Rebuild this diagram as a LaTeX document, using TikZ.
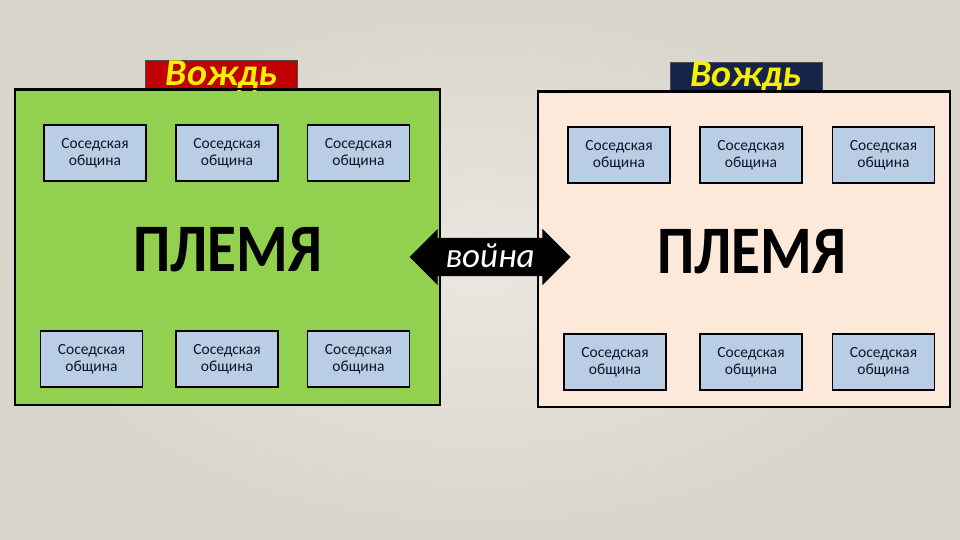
\documentclass[tikz,border=0pt]{standalone}
\usepackage{fontspec}
\setmainfont{Carlito}
\usetikzlibrary{shapes.arrows}

\definecolor{bgbeige}{HTML}{D8D5CB}
\definecolor{bglight}{HTML}{EAE7E1}
\definecolor{tribegreen}{HTML}{92D050}
\definecolor{tribepeach}{HTML}{FDE9D9}
\definecolor{commblue}{HTML}{B9CDE5}
\definecolor{chiefred}{HTML}{C00000}
\definecolor{chiefnavy}{HTML}{17244A}
\definecolor{chiefyellow}{HTML}{F7F000}
\definecolor{inkdark}{HTML}{0D1626}

\begin{document}
\begin{tikzpicture}[x=1pt, y=-1pt,
  tribe/.style={draw, line width=2pt, minimum width=#1, minimum height=315pt, inner sep=0pt},
  comm/.style={draw, line width=1.6pt, fill=commblue, align=center, text=inkdark,
               font=\fontsize{15.5}{17.5}\selectfont, minimum width=102pt, minimum height=56pt, inner sep=0pt},
  chief/.style={fill=#1, draw=black!70, line width=0.8pt, text=chiefyellow,
                font=\fontsize{38}{38}\selectfont\bfseries\itshape,
                minimum width=152pt, minimum height=28pt, inner sep=0pt, text height=25pt, text depth=3pt},
  tribename/.style={font=\fontsize{68}{68}\selectfont\bfseries, text=black, xscale=0.87, transform shape}]
% background
\shade[inner color=bglight, outer color=bgbeige] (0,0) rectangle (960,540);
\useasboundingbox (0,0) rectangle (960,540);
% the two tribes
\node[tribe=425pt, fill=tribegreen] (tribeL) at (227.5,247.5) {};
\node[tribe=412pt, fill=tribepeach] (tribeR) at (744,249.5) {};
\node[chief=chiefred] (chiefL) at (221.5,74.5) {Вождь};
\node[chief=chiefnavy] (chiefR) at (746,76) {Вождь};
\draw[line width=2pt] (tribeL.north west) -- (tribeL.north east);
\draw[line width=2pt] (tribeR.north west) -- (tribeR.north east);
\node[tribename] (nameL) at (228,250) {ПЛЕМЯ};
\node[tribename] (nameR) at (752,252) {ПЛЕМЯ};
% neighbour communities, left tribe
\node[comm] (l1) at (95,153) {Соседская\\община};
\node[comm] (l2) at (227,153) {Соседская\\община};
\node[comm] (l3) at (358.5,153) {Соседская\\община};
\node[comm] (l4) at (91.5,359) {Соседская\\община};
\node[comm] (l5) at (227,359) {Соседская\\община};
\node[comm] (l6) at (358.5,359) {Соседская\\община};
% neighbour communities, right tribe
\node[comm] (r1) at (619,155) {Соседская\\община};
\node[comm] (r2) at (751,155) {Соседская\\община};
\node[comm] (r3) at (883.5,155) {Соседская\\община};
\node[comm] (r4) at (615,362) {Соседская\\община};
\node[comm] (r5) at (751,362) {Соседская\\община};
\node[comm] (r6) at (883.5,362) {Соседская\\община};
% war
\node[double arrow, fill=black, text=white, double arrow head extend=9pt,
      minimum height=161pt, inner xsep=0pt, inner ysep=5pt, text height=24pt, text depth=4pt,
      font=\fontsize{35}{35}\selectfont\itshape] (war) at (490,257) {война};
\end{tikzpicture}
\end{document}
